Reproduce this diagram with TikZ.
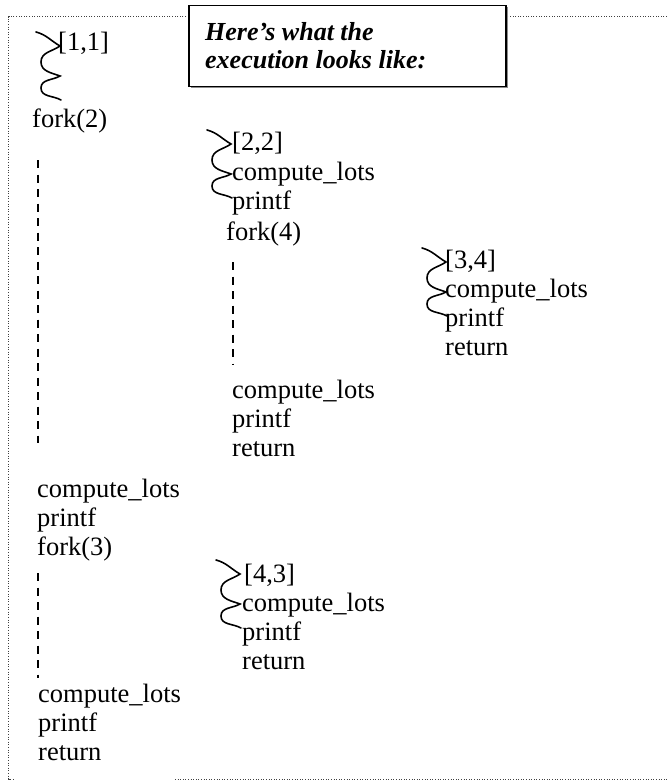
\documentclass[tikz,border=0pt]{standalone}
\usepackage{fontspec}
\setmainfont{Liberation Serif}
\begin{document}
\begin{tikzpicture}[x=1pt,y=-1pt,
  txt/.style={anchor=base west, inner sep=0pt, font=\fontsize{26.5}{29}\selectfont},
  ttl/.style={anchor=base west, inner sep=0pt, font=\fontsize{26}{29}\selectfont\bfseries\itshape},
  wave/.style={line width=1.6pt, line cap=round},
  thr/.style={line width=1.8pt, dash pattern=on 8pt off 6.5pt},
  frame/.style={line width=1pt, dash pattern=on 1pt off 1.6pt, black!75},
  squig/.pic={\draw[wave] (0,0) to[out=-15,in=150] (24,14) to[out=215,in=90] (5,30)
      to[out=-90,in=160] (24,44) to[out=210,in=90] (5,56) to[out=-90,in=150] (25,68);}]
\useasboundingbox (0,0) rectangle (667,781);
% frame
\coordinate (fTL) at (8.5,17); \coordinate (fTR) at (667,17);
\coordinate (fBL) at (8.5,779); \coordinate (fB1) at (15,779);
\coordinate (fB2) at (175,779); \coordinate (fBR) at (667,779);
\draw[frame] (fTR) -- (fTL) -- (fBL) -- (fB1);
\draw[frame] (fB2) -- (fBR);
% title
\fill[black!45] (190.5,7.5) rectangle (507.5,88.5);
\node[draw, line width=1.5pt, fill=white, minimum width=317pt, minimum height=81pt,
  anchor=north west, inner sep=0pt] (title) at (188,5) {};
\node[ttl] (ttl1) at (205,41) {Here’s what the};
\node[ttl] (ttl2) at (205,69) {execution looks like:};
% thread 1
\pic at (36,32) {squig};
\node[txt] (a0) at (58,51) {[1,1]};
\node[txt] (a1) at (32,128) {fork(2)};
\node[txt] (a2) at (37,497) {compute\_lots};
\node[txt] (a3) at (37,526) {printf};
\node[txt] (a4) at (37,555) {fork(3)};
\node[txt] (a5) at (38,702) {compute\_lots};
\node[txt] (a6) at (38,731) {printf};
\node[txt] (a7) at (38,760) {return};
\coordinate (d1s) at (38,160); \coordinate (d1e) at (38,443);
\coordinate (d2s) at (38,573); \coordinate (d2e) at (38,678);
\draw[thr] (d1s) -- (d1e);
\draw[thr] (d2s) -- (d2e);
% thread 2
\pic at (207,130) {squig};
\node[txt] (b0) at (232,150) {[2,2]};
\node[txt] (b1) at (232,180) {compute\_lots};
\node[txt] (b2) at (232,209) {printf};
\node[txt] (b3) at (226,240) {fork(4)};
\node[txt] (b4) at (232,398) {compute\_lots};
\node[txt] (b5) at (232,427) {printf};
\node[txt] (b6) at (232,456) {return};
\coordinate (d3s) at (233,262); \coordinate (d3e) at (233,365);
\draw[thr] (d3s) -- (d3e);
% thread 3
\pic at (422,248) {squig};
\node[txt] (c0) at (445,268) {[3,4]};
\node[txt] (c1) at (445,297) {compute\_lots};
\node[txt] (c2) at (445,326) {printf};
\node[txt] (c3) at (445,355) {return};
% thread 4
\pic at (216,560) {squig};
\node[txt] (e0) at (244,582) {[4,3]};
\node[txt] (e1) at (242,611) {compute\_lots};
\node[txt] (e2) at (242,640) {printf};
\node[txt] (e3) at (242,669) {return};
\end{tikzpicture}
\end{document}
